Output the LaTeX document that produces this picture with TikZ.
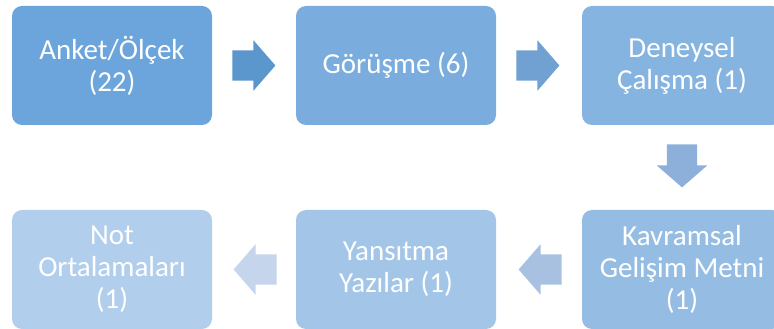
\documentclass[tikz,border=0pt]{standalone}
\usepackage{fontspec}
\setmainfont{Carlito}
\usetikzlibrary{shapes.arrows,calc}

\definecolor{boxA}{RGB}{107,165,219}
\definecolor{boxB}{RGB}{122,173,221}
\definecolor{boxC}{RGB}{134,180,224}
\definecolor{boxD}{RGB}{149,189,228}
\definecolor{boxE}{RGB}{163,198,232}
\definecolor{boxF}{RGB}{177,206,236}
\definecolor{arrA}{RGB}{91,150,204}
\definecolor{arrB}{RGB}{113,161,211}
\definecolor{arrC}{RGB}{141,176,218}
\definecolor{arrD}{RGB}{169,193,225}
\definecolor{arrE}{RGB}{197,213,235}

\begin{document}
\begin{tikzpicture}[x=1pt, y=1pt,
    stagebox/.style={rectangle, rounded corners=10pt, minimum width=200pt, minimum height=119pt,
        align=center, text=white, inner sep=0pt,
        font=\fontsize{29}{32}\selectfont},
    blockarrow/.style={single arrow, anchor=tail, minimum height=43pt, inner xsep=0pt, inner ysep=15pt,
        single arrow head extend=10pt, single arrow tip angle=98}
    ]
    \useasboundingbox (0,0) rectangle (774,329);

    % Top row
    \node[stagebox, fill=boxA] (anket) at (112,263.5) {Anket/Ölçek\\(22)};
    \node[stagebox, fill=boxB] (gorusme) at (396,263.5) {Görüşme (6)};
    \node[stagebox, fill=boxC] (deney) at (682,263.5) {Deneysel\\Çalışma (1)};

    % Bottom row
    \node[stagebox, fill=boxD] (kavram) at (682,59.5) {Kavramsal\\Gelişim Metni\\(1)};
    \node[stagebox, fill=boxE] (yansitma) at (396,59.5) {Yansıtma\\Yazılar (1)};
    \node[stagebox, fill=boxF] (notort) at (112,59.5) {Not\\Ortalamaları\\(1)};

    % Block arrows
    \node[blockarrow, fill=arrA] (ok1) at ($(anket.east)+(20,0)$) {};
    \node[blockarrow, fill=arrB] (ok2) at ($(gorusme.east)+(20,0)$) {};
    \node[blockarrow, fill=arrC, rotate=270] (ok3) at ($(deney.south)+(0,-19)$) {};
    \node[blockarrow, fill=arrD, rotate=180] (ok4) at ($(kavram.west)+(-20,0)$) {};
    \node[blockarrow, fill=arrE, rotate=180] (ok5) at ($(yansitma.west)+(-19,0)$) {};
\end{tikzpicture}
\end{document}
